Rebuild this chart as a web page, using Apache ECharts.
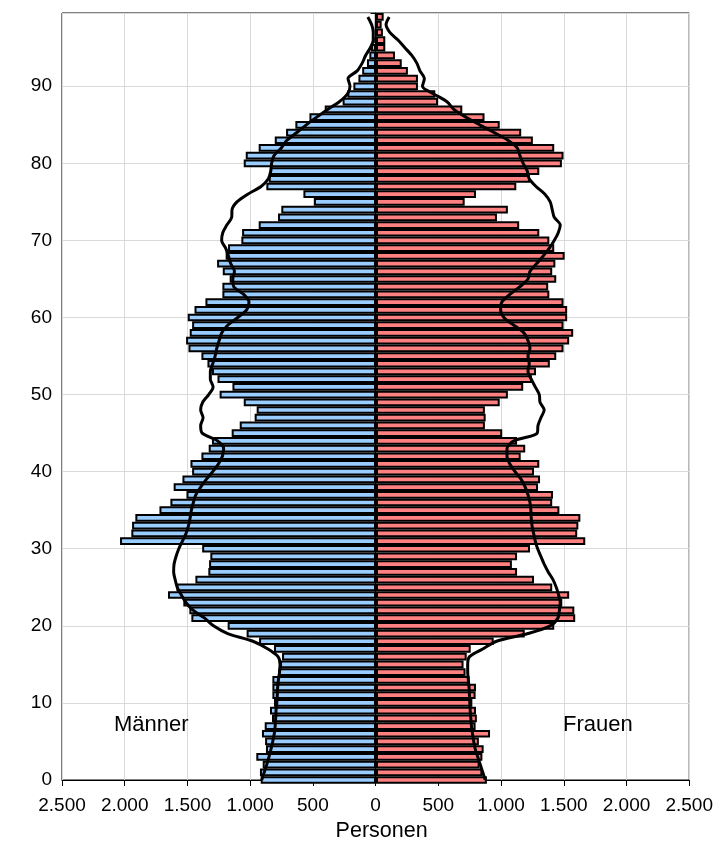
<!DOCTYPE html>
<html><head><meta charset="utf-8">
<script src="https://cdn.jsdelivr.net/npm/echarts@6/dist/echarts.min.js"></script>
<style>html,body{margin:0;padding:0;background:#fff}#c{width:716px;height:854px}</style>
</head><body><div id="c"></div>
<script>
// ages 0..99 (+ one empty padding category "100")
const ages = ['0','1','2','3','4','5','6','7','8','9','10','11','12','13','14','15','16','17','18','19','20','21','22','23','24','25','26','27','28','29','30','31','32','33','34','35','36','37','38','39','40','41','42','43','44','45','46','47','48','49','50','51','52','53','54','55','56','57','58','59','60','61','62','63','64','65','66','67','68','69','70','71','72','73','74','75','76','77','78','79','80','81','82','83','84','85','86','87','88','89','90','91','92','93','94','95','96','97','98','99','100'];

const men = [918,924,902,953,876,883,908,886,828,844,
  812,825,825,825,777,764,748,812,931,1030,
  1181,1470,1486,1534,1656,1589,1438,1335,1329,1319,
  1384,2038,1948,1942,1916,1724,1637,1509,1611,1541,
  1464,1477,1390,1332,1306,1149,1085,966,950,1053,
  1245,1143,1262,1306,1342,1390,1493,1512,1483,1464,
  1499,1445,1358,1223,1223,1165,1220,1265,1197,1178,
  1072,1066,934,780,754,494,578,873,854,844,
  1053,1037,934,806,716,642,530,408,266,228,
  180,140,110,72,53,40,12,6,4,3,null];

const women = [883,847,825,847,857,819,908,793,803,796,
  767,793,796,745,713,697,722,754,937,1184,
  1419,1586,1579,1483,1538,1403,1258,1123,1082,1123,
  1226,1666,1602,1611,1627,1460,1403,1409,1290,1306,
  1258,1300,1152,1188,1123,1005,867,873,867,985,
  1050,1172,1242,1274,1384,1435,1493,1538,1570,1493,
  1522,1522,1493,1380,1371,1435,1403,1428,1502,1419,
  1380,1300,1140,963,1050,706,796,1117,1226,1300,
  1480,1493,1419,1249,1156,985,864,687,494,472,
  334,334,254,205,151,74,74,55,45,61,null];

const menLine = [910,890,870,852,836,822,810,803,799,796,
  790,786,783,777,768,764,780,860,980,1181,
  1294,1364,1454,1512,1550,1583,1599,1611,1608,1592,
  1570,1541,1512,1493,1480,1470,1454,1435,1396,1351,
  1300,1255,1223,1213,1262,1384,1396,1377,1396,1380,
  1332,1297,1319,1319,1300,1281,1268,1249,1229,1181,
  1101,1030,1011,1053,1133,1140,1127,1157,1175,1197,
  1229,1220,1188,1149,1146,1107,1021,915,857,838,
  831,812,754,709,630,555,472,385,292,228,
  207,223,150,110,83,45,22,22,35,65,null];

const womenLine = [870,850,830,810,790,778,768,760,755,750,
  747,744,741,735,730,730,745,850,960,1210,
  1387,1448,1460,1467,1454,1435,1409,1371,1339,1313,
  1287,1268,1255,1242,1236,1233,1226,1210,1188,1156,
  1107,1066,1043,1043,1098,1284,1290,1313,1339,1306,
  1300,1268,1236,1210,1220,1210,1226,1210,1178,1098,
  1018,992,1002,1066,1146,1210,1226,1279,1332,1380,
  1419,1451,1467,1419,1403,1387,1345,1274,1220,1204,
  1172,1146,1124,1050,940,825,715,620,565,460,
  370,385,350,325,285,230,175,110,80,105,null];

const FONT = '"Liberation Sans", Arial, sans-serif';
function fmt(v){
  v = Math.abs(Math.round(v));
  if (v >= 1000) return Math.floor(v/1000) + '.' + String(v % 1000).padStart(3,'0');
  return String(v);
}
const neg = a => a.map(v => v == null ? null : -v);

const chart = echarts.init(document.getElementById('c'));
chart.setOption({
  animation: false,
  backgroundColor: '#fff',
  grid: [
    {left: 62, right: 26, top: 9.2, bottom: 74, show: false},
    {left: 62, right: 26, top: 13, bottom: 74, show: true, borderColor: '#000', borderWidth: 1, backgroundColor: 'transparent'}
  ],
  xAxis: [
    {gridIndex: 0, type: 'value', min: -2500, max: 2500, interval: 500, show: false},
    {gridIndex: 1, type: 'value', min: -2500, max: 2500, interval: 500,
      axisLine: {show: true, lineStyle: {color: '#000', width: 1}},
      axisTick: {show: true, length: 6, lineStyle: {color: '#000'}},
      axisLabel: {formatter: v => fmt(v), fontSize: 19, color: '#000', margin: 16, fontFamily: FONT},
      splitLine: {show: true, lineStyle: {color: '#d9d9d9', width: 1}},
      name: 'Personen', nameLocation: 'middle', nameGap: 38,
      nameTextStyle: {fontSize: 21.5, color: '#000', fontFamily: FONT, padding: [0, 0, 0, 12]}}
  ],
  yAxis: [
    {gridIndex: 0, type: 'category', data: ages, boundaryGap: false, show: false},
    {gridIndex: 1, type: 'value', min: 0, max: 99.5, interval: 10,
      axisLine: {show: true, lineStyle: {color: '#000', width: 1}},
      axisTick: {show: true, length: 5, lineStyle: {color: '#000'}},
      axisLabel: {formatter: v => (v % 10 === 0 ? String(v) : ''), fontSize: 19, color: '#000', margin: 10, fontFamily: FONT},
      splitLine: {show: true, lineStyle: {color: '#d9d9d9', width: 1}}}
  ],
  series: [
    {name: 'Männer', type: 'bar', xAxisIndex: 0, yAxisIndex: 0, stack: 'p', data: neg(men),
      barCategoryGap: '0%', itemStyle: {color: '#99CCFF', borderColor: '#000', borderWidth: 2}, z: 2},
    {name: 'Frauen', type: 'bar', xAxisIndex: 0, yAxisIndex: 0, stack: 'p', data: women,
      barCategoryGap: '0%', itemStyle: {color: '#FF8080', borderColor: '#000', borderWidth: 2}, z: 2},
    {type: 'line', xAxisIndex: 0, yAxisIndex: 0, data: neg(menLine), symbol: 'none', smooth: 0.3,
      lineStyle: {color: '#000', width: 3}, z: 3},
    {type: 'line', xAxisIndex: 0, yAxisIndex: 0, data: womenLine, symbol: 'none', smooth: 0.3,
      lineStyle: {color: '#000', width: 3}, z: 3}
  ],
  graphic: [
    {type: 'text', x: 114, y: 714, z: 10, style: {text: 'Männer', fontSize: 22, fontFamily: FONT, fill: '#000'}},
    {type: 'text', x: 563, y: 714, z: 10, style: {text: 'Frauen', fontSize: 22, fontFamily: FONT, fill: '#000'}}
  ]
});
</script>
</body></html>
